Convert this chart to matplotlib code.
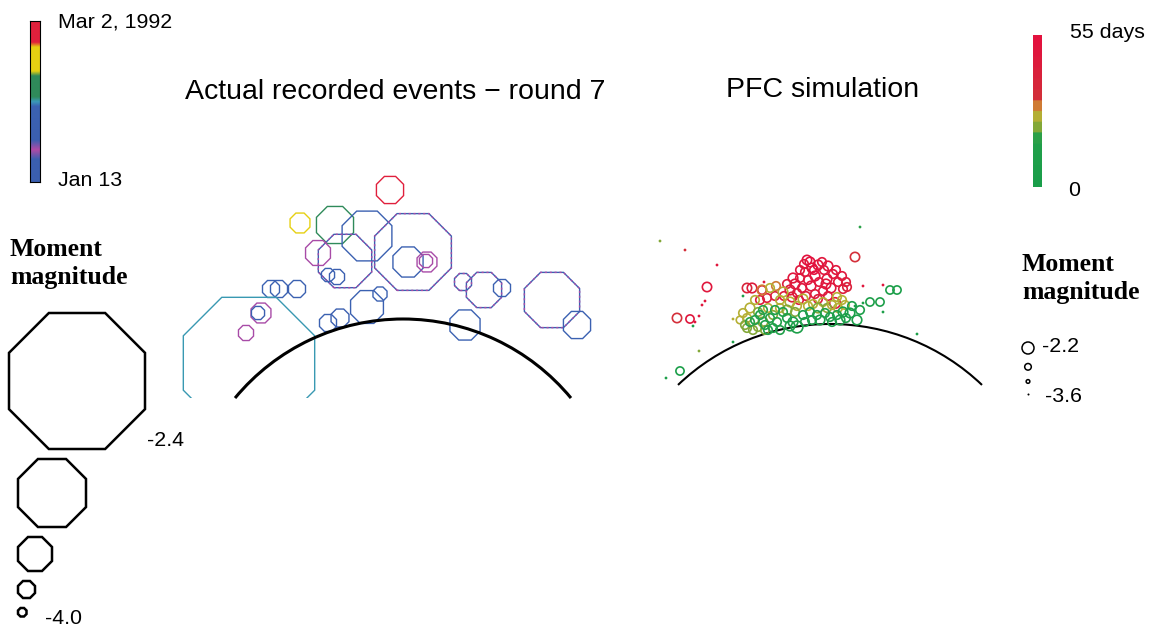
import numpy as np
import matplotlib
matplotlib.use("Agg")
import matplotlib.pyplot as plt
from matplotlib.patches import RegularPolygon, Arc, Rectangle
from matplotlib.colors import LinearSegmentedColormap, Normalize

# --- left panel: recorded events (x, y in picture pixels, day since Jan 13, moment magnitude)
ev_x = [390, 300, 335, 367, 413, 345, 318, 408, 427, 426, 328, 337, 271, 279, 297,
        249, 261, 258, 246, 367, 380, 328, 340, 465, 463, 484, 502, 552, 577]
ev_y = [190, 223, 225, 236, 252, 261, 253, 262, 262, 261, 275, 277, 289, 289, 289,
        363, 313, 313, 333, 307, 294, 323, 318, 325, 282, 290, 288, 300, 325]
ev_day = [47, 38, 29, 20, 12, 12, 10, 18, 10, 10, 18, 5, 22, 18, 20,
          24.5, 10, 4, 10, 20, 20, 20, 4, 22, 12, 12, 20, 12, 20]
ev_mag = [-3.33, -3.51, -3.15, -2.98, -2.73, -2.94, -3.38, -3.27, -3.51, -3.75, -3.75, -3.67,
          -3.60, -3.60, -3.60, -2.42, -3.51, -3.75, -3.67, -3.22, -3.71, -3.60, -3.57,
          -3.27, -3.60, -3.18, -3.60, -2.92, -3.33]
ev_mixed = [0, 0, 0, 0, 1, 1, 0, 0, 0, 0, 0, 0, 0, 0, 0,
            0, 0, 0, 0, 0, 0, 0, 0, 0, 1, 1, 0, 1, 0]
left_leg_mag = [-2.4, -2.8, -3.2, -3.6, -4.0]

# --- right panel: PFC simulation (open circles and small dots), days 0-55
# sparse outliers
pfc_x = [707, 677, 690, 680, 747, 855, 807, 890, 897, 880, 870]
pfc_y = [287, 318, 319, 371, 288, 257, 260, 290, 290, 302, 302]
pfc_day = [48, 33, 48, 5, 36, 33, 52, 8, 6, 10, 10]
pfc_mag = [-2.4, -2.4, -2.5, -2.5, -2.4, -2.4, -2.4, -2.5, -2.5, -2.5, -2.5]
# red blob
pfc_x += [812, 818, 824, 805, 815, 808, 800, 795, 802, 811, 819, 827, 833, 838, 831, 823,
          815, 806, 797, 790, 843, 847, 835, 828, 752, 762, 760, 767, 775,
          800, 810, 822, 828, 836, 842, 846, 793, 787, 784, 792, 799, 818, 826, 814, 804]
pfc_y += [268, 265, 270, 272, 276, 280, 278, 284, 288, 286, 282, 279, 274, 282, 288, 291,
          294, 296, 293, 290, 289, 287, 303, 296, 288, 290, 300, 298, 296,
          270, 262, 262, 266, 270, 276, 282, 278, 284, 296, 297, 300, 299, 284, 270, 264]
pfc_day += [52, 50, 50, 50, 52, 49, 50, 51, 48, 50, 50, 51, 50, 49, 50, 49,
            47, 46, 47, 48, 47, 40, 48, 46, 45, 48, 47, 46, 40,
            51, 52, 50, 49, 50, 48, 46, 49, 47, 44, 45, 44, 45, 50, 52, 51]
pfc_mag += [-2.38, -2.38, -2.47, -2.47, -2.38, -2.47, -2.47, -2.38, -2.47, -2.38, -2.47,
            -2.38, -2.47, -2.47, -2.38, -2.47, -2.47, -2.47, -2.47, -2.38, -2.47, -2.47,
            -2.3, -2.47, -2.38, -2.47, -2.47, -2.47, -2.47,
            -2.47, -2.38, -2.47, -2.38, -2.47, -2.47, -2.47, -2.38, -2.47, -2.47, -2.38,
            -2.47, -2.47, -2.38, -2.47, -2.47]
# olive band
pfc_x += [783, 790, 780, 773, 763, 747, 743, 750, 747, 753, 803, 813, 823, 827, 837, 842,
          776, 797, 758, 768, 740,
          755, 762, 770, 787, 795, 808, 818, 832, 838, 745, 758, 765, 780, 845]
pfc_y += [292, 302, 308, 315, 322, 318, 313, 308, 328, 330, 299, 304, 302, 308, 297, 300,
          286, 306, 312, 308, 320,
          300, 290, 288, 310, 312, 306, 308, 305, 308, 325, 327, 330, 300, 305]
pfc_day += [27, 25, 24, 23, 22, 24, 25, 25, 22, 21, 27, 25, 24, 23, 26, 27,
            28, 24, 23, 24, 27,
            26, 28, 27, 23, 22, 24, 23, 25, 24, 21, 22, 20, 26, 25]
pfc_mag += [-2.38, -2.38, -2.47, -2.47, -2.38, -2.47, -2.47, -2.38, -2.47, -2.47, -2.38,
            -2.47, -2.47, -2.47, -2.47, -2.47, -2.47, -2.47, -2.47, -2.47, -2.57,
            -2.47, -2.38, -2.47, -2.38, -2.47, -2.47, -2.38, -2.47, -2.47, -2.47, -2.47,
            -2.47, -2.47, -2.47]
# green band
pfc_x += [760, 770, 777, 787, 793, 797, 803, 810, 817, 830, 837, 843, 850, 857, 832, 773,
          768, 783, 755, 820, 846,
          763, 775, 790, 805, 812, 825, 840, 852, 860, 765, 750, 780]
pfc_y += [315, 318, 322, 318, 322, 327, 315, 312, 315, 317, 315, 312, 313, 320, 322, 328,
          330, 312, 320, 320, 318,
          310, 310, 326, 322, 320, 313, 320, 306, 310, 325, 322, 330]
pfc_day += [14, 12, 12, 10, 9, 8, 10, 11, 10, 9, 8, 8, 7, 6, 9, 14,
            15, 13, 15, 10, 7,
            16, 14, 10, 10, 11, 9, 8, 7, 6, 15, 17, 13]
pfc_mag += [-2.47, -2.47, -2.47, -2.47, -2.38, -2.22, -2.47, -2.47, -2.47, -2.47, -2.47,
            -2.38, -2.38, -2.38, -2.47, -2.47, -2.47, -2.47, -2.47, -2.38, -2.47,
            -2.47, -2.47, -2.38, -2.47, -2.47, -2.47, -2.38, -2.47, -2.47, -2.47, -2.47,
            -2.47]
dot_x = [660, 685, 717, 705, 702, 695, 699, 693, 666, 699, 733, 743, 764, 733, 860,
         863, 883, 863, 855, 883, 917]
dot_y = [241, 250, 265, 301, 305, 322, 316, 326, 378, 351, 342, 296, 282, 319, 227,
         286, 285, 303, 306, 312, 334]
dot_day = [20, 35, 50, 50, 48, 50, 48, 10, 8, 20, 12, 12, 50, 25, 18,
           50, 50, 10, 10, 10, 10]
right_leg_mag = [-2.2, -2.67, -3.13, -3.6]

left_cmap = LinearSegmentedColormap.from_list("dates", [
    (0.0, "#3b5fb0"), (0.14, "#3b5fb0"), (0.2, "#b04aa6"), (0.26, "#3b5fb0"),
    (0.47, "#3b62b2"), (0.5, "#3a9ab8"), (0.53, "#2f8a5a"), (0.66, "#2f8a5a"),
    (0.69, "#e6d012"), (0.84, "#e6d012"), (0.87, "#e0203c"), (1.0, "#e0203c")])
right_cmap = LinearSegmentedColormap.from_list("days", [
    (0.0, "#1a9e4a"), (0.3, "#22a04a"), (0.38, "#80a838"), (0.46, "#b4b034"),
    (0.54, "#d07a34"), (0.62, "#d42a3a"), (1.0, "#e3123e")], N=14)
left_norm = Normalize(0, 49)
right_norm = Normalize(0, 55)


def oct_width(m):
    return 136 * 2 ** ((m + 2.4) / 0.4)


def circ_diam(m):
    return 12 * 10 ** (0.55 * (m + 2.2))


def octagon(ax, x, y, w, **kw):
    r = w / (2 * np.cos(np.pi / 8))
    p = RegularPolygon((x, y), numVertices=8, radius=r, orientation=np.pi / 8,
                       fill=False, **kw)
    ax.add_patch(p)
    return p


fig = plt.figure(figsize=(11.52, 6.27), dpi=100)
ax = fig.add_axes([0, 0, 1, 1])
ax.set_xlim(0, 1152)
ax.set_ylim(627, 0)
ax.axis("off")

sans = "Liberation Sans"
serif = "Liberation Serif"

# left panel
clip = Rectangle((0, 0), 1152, 398, transform=ax.transData)
magenta = left_cmap(left_norm(10))
for x, y, d, m, mix in zip(ev_x, ev_y, ev_day, ev_mag, ev_mixed):
    c = left_cmap(left_norm(d)) if not mix else left_cmap(left_norm(20))
    p = octagon(ax, x, y, oct_width(m), edgecolor=c, lw=1.0)
    p.set_clip_path(clip)
    if mix:
        p2 = octagon(ax, x, y, oct_width(m), edgecolor=magenta, lw=1.0, linestyle=(0, (1.5, 2)))
        p2.set_clip_path(clip)

ax.add_patch(Arc((403, 537), 436, 436, theta1=219.6, theta2=320.4, color="black", lw=2.2))
ax.add_patch(Arc((830, 544), 440, 440, theta1=226.3, theta2=313.7, color="black", lw=1.5))

# right panel
pt = 72 / fig.dpi
ax.scatter(pfc_x, pfc_y, s=[(circ_diam(m) * pt) ** 2 for m in pfc_mag],
           facecolors="none", edgecolors=right_cmap(right_norm(np.array(pfc_day))),
           linewidths=1.2, zorder=3)
ax.scatter(dot_x, dot_y, s=(2.8 * pt) ** 2, c=right_cmap(right_norm(np.array(dot_day))),
           linewidths=0, zorder=3)

# titles
ax.text(395, 92, "Actual recorded events \u2212 round 7", fontsize=20.5, family=sans,
        ha="center", va="center")
ax.text(823, 90, "PFC simulation", fontsize=20.5, family=sans, ha="center", va="center")

# colour bars
grad = np.linspace(0, 1, 256).reshape(-1, 1)
cb1 = fig.add_axes([30 / 1152, (627 - 182) / 627, 10 / 1152, 161 / 627])
cb1.imshow(grad, cmap=left_cmap, aspect="auto", origin="lower")
cb1.set_xticks([])
cb1.set_yticks([])
for s in cb1.spines.values():
    s.set_linewidth(0.8)
cb2 = fig.add_axes([1033 / 1152, (627 - 187) / 627, 9 / 1152, 152 / 627])
cb2.imshow(grad, cmap=right_cmap, aspect="auto", origin="lower")
cb2.axis("off")

lab = dict(fontsize=15.4, family=sans, va="center", ha="left")
ax.text(58, 22, "Mar 2, 1992", **lab)
ax.text(58, 181, "Jan 13", **lab)
ax.text(1070, 32, "55 days", **lab)
ax.text(1068, 191, "0", **lab)

# size legends
mm = dict(fontsize=18.5, family=serif, weight="bold", va="top", ha="left", linespacing=1.3)
ax.text(10, 238, "Moment\nmagnitude", **mm)
ax.text(1022, 253, "Moment\nmagnitude", **mm)

top = 313
for m in left_leg_mag:
    w = oct_width(m)
    left = 9 if w > 100 else 18
    octagon(ax, left + w / 2, top + w / 2, w, edgecolor="black", lw=1.8)
    top += w + 10
ax.text(147, 440, "-2.4", **lab)
ax.text(45, 618, "-4.0", **lab)

top = 342
for m in right_leg_mag:
    d = circ_diam(m)
    if d < 3:
        ax.scatter([1028], [top + d / 2], s=(d * pt) ** 2, c="black", linewidths=0)
    else:
        ax.scatter([1028], [top + d / 2], s=(d * pt) ** 2, facecolors="none",
                   edgecolors="black", linewidths=1.1)
    top += d + 9.5
ax.text(1042, 347, "-2.2", **lab)
ax.text(1045, 397, "-3.6", **lab)

fig.savefig("out.png", dpi=100)
